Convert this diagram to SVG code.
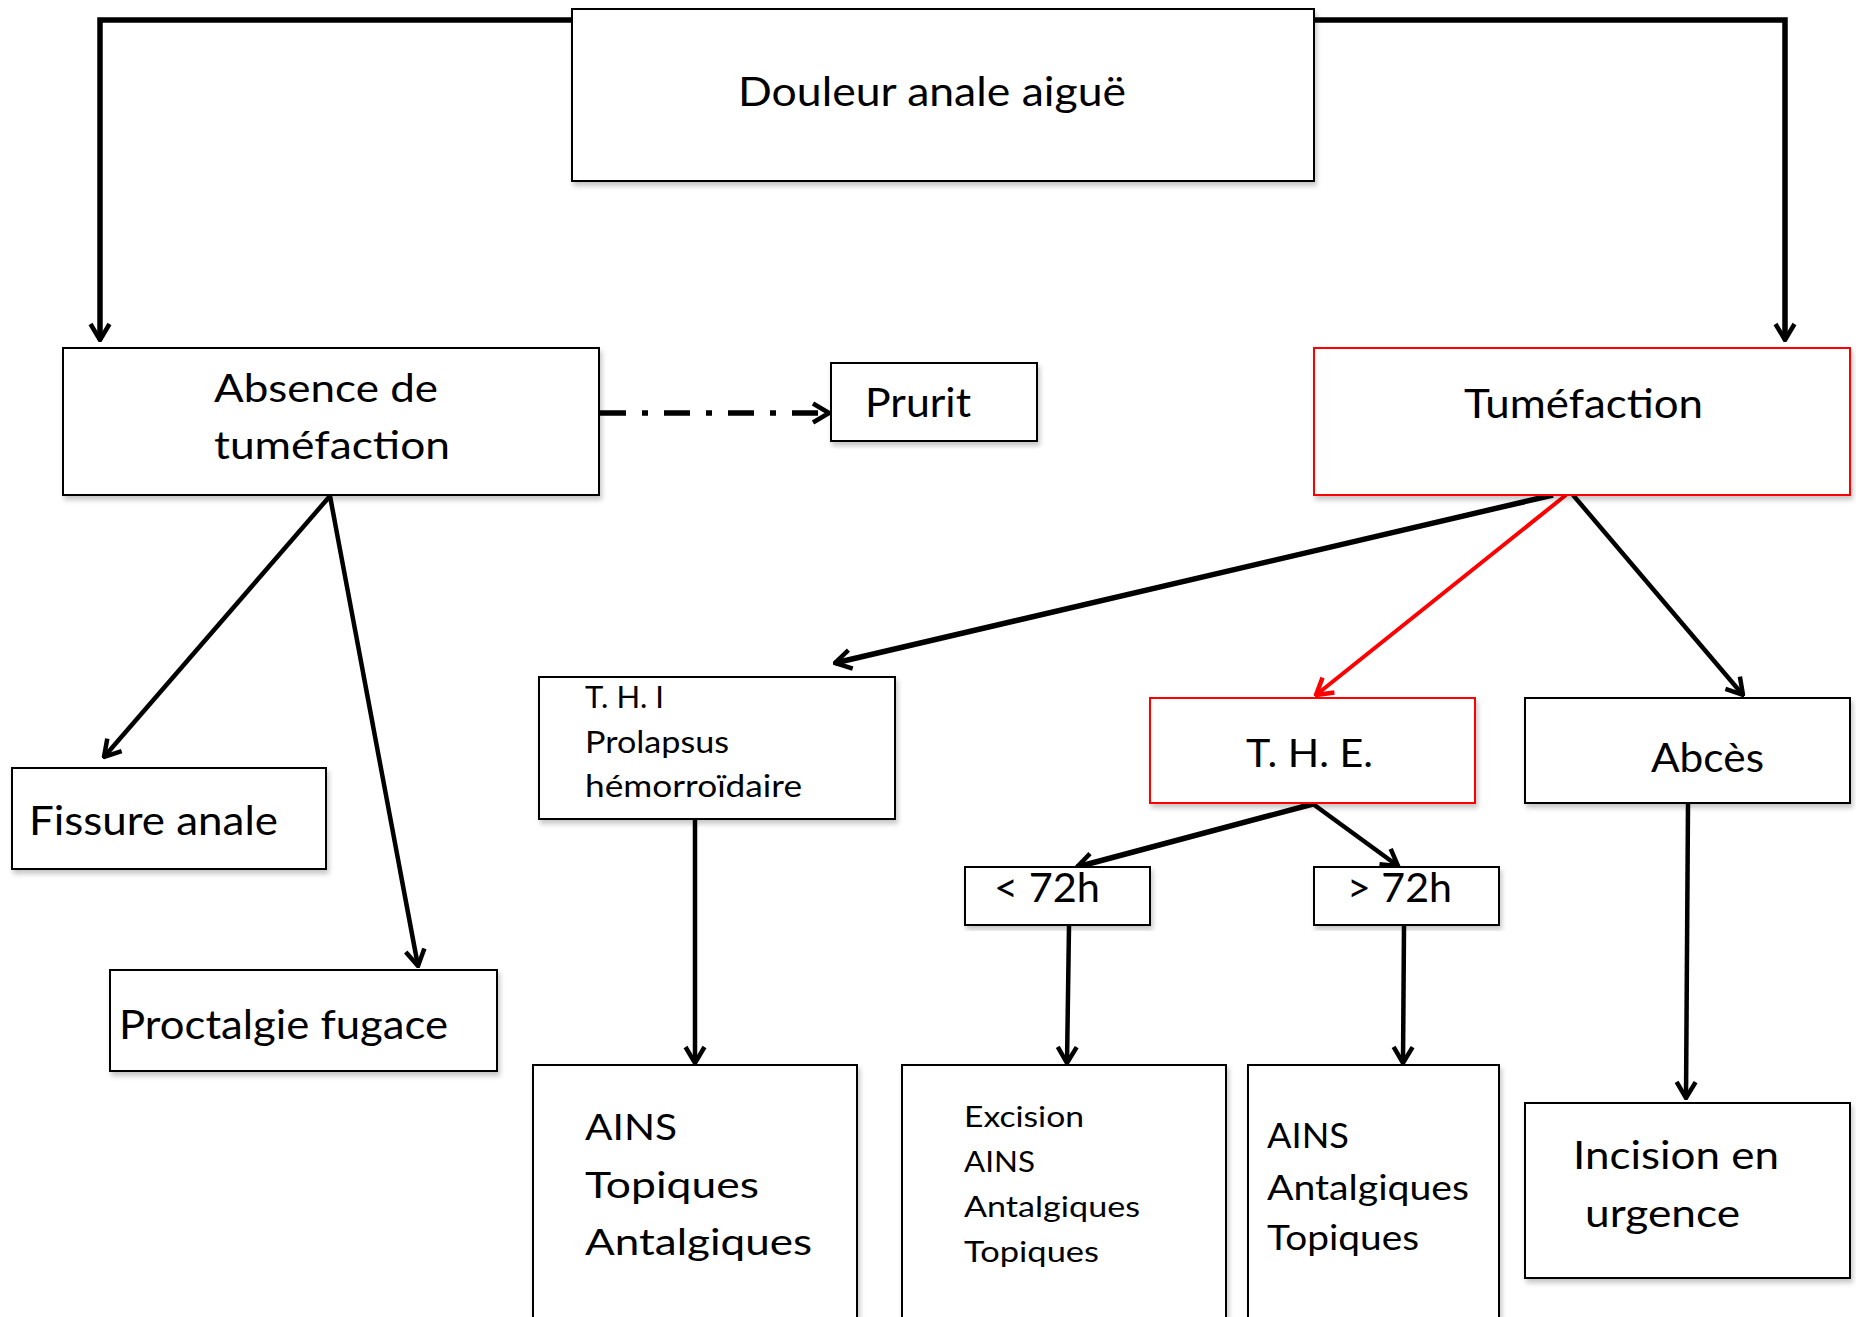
<svg xmlns="http://www.w3.org/2000/svg" width="1856" height="1317" viewBox="0 0 1856 1317">
<defs>
  <filter id="sh" x="-5%" y="-5%" width="110%" height="115%">
    <feDropShadow dx="2" dy="4" stdDeviation="2.5" flood-color="#000" flood-opacity="0.22"/>
  </filter>
  <marker id="ah" viewBox="-20 -12 22 24" markerWidth="22" markerHeight="24" refX="0" refY="0" orient="auto" markerUnits="userSpaceOnUse">
    <path d="M-16,-9.5 L0,0 L-16,9.5" fill="none" stroke="#000" stroke-width="4.5" stroke-linejoin="miter"/>
  </marker>
  <marker id="ahr" viewBox="-20 -12 22 24" markerWidth="22" markerHeight="24" refX="0" refY="0" orient="auto" markerUnits="userSpaceOnUse">
    <path d="M-16,-9.5 L0,0 L-16,9.5" fill="none" stroke="#f00" stroke-width="4.5" stroke-linejoin="miter"/>
  </marker>
  <style>
    .box{fill:#fff;stroke:#000;stroke-width:2;filter:url(#sh)}
    .red{stroke:#f00}
    text{font-family:Lato,"Liberation Sans",sans-serif;fill:#000}
    .c{fill:none;stroke:#000;stroke-width:4.5;marker-end:url(#ah)}
    .thick{stroke-width:5.5}
    .cr{fill:none;stroke:#f00;stroke-width:4;marker-end:url(#ahr)}
  </style>
</defs>
<rect width="1856" height="1317" fill="#fff"/>

<g id="connectors">
  <polyline class="c thick" points="572,20 100,20 100,340"/>
  <polyline class="c thick" points="1314,20 1785,20 1785,340"/>
  <line class="c thick" x1="600" y1="413" x2="829" y2="413" stroke-dasharray="26,16,6,16"/>
  <line class="c" x1="330" y1="496" x2="104" y2="757"/>
  <line class="c" x1="330" y1="496" x2="418" y2="966"/>
  <line class="c thick" x1="1553" y1="495" x2="835" y2="663"/>
  <line class="cr" x1="1566" y1="495" x2="1316" y2="695"/>
  <line class="c" x1="1573" y1="495" x2="1743" y2="695"/>
  <line class="c thick" x1="1313" y1="804" x2="1077" y2="867"/>
  <line class="c" x1="1313" y1="804" x2="1398" y2="866"/>
  <line class="c" x1="695" y1="819" x2="695" y2="1063"/>
  <line class="c" x1="1069" y1="926" x2="1067" y2="1063"/>
  <line class="c" x1="1404" y1="926" x2="1403" y2="1063"/>
  <line class="c" x1="1688" y1="804" x2="1686" y2="1098"/>
</g>

<g id="douleur">
  <rect class="box" x="572" y="9" width="742" height="172"/>
  <text x="738" y="106" font-size="40" textLength="388" lengthAdjust="spacingAndGlyphs">Douleur anale aiguë</text>
</g>
<g id="absence">
  <rect class="box" x="63" y="348" width="536" height="147"/>
  <text x="214" y="402" font-size="39" textLength="224" lengthAdjust="spacingAndGlyphs">Absence de</text>
  <text x="214" y="459" font-size="39" textLength="236" lengthAdjust="spacingAndGlyphs">tuméfaction</text>
</g>
<g id="prurit">
  <rect class="box" x="831" y="363" width="206" height="78"/>
  <text x="865" y="417" font-size="40" textLength="106" lengthAdjust="spacingAndGlyphs">Prurit</text>
</g>
<g id="tumefaction">
  <rect class="box red" x="1314" y="348" width="536" height="147"/>
  <text x="1464" y="418" font-size="40" textLength="239" lengthAdjust="spacingAndGlyphs">Tuméfaction</text>
</g>
<g id="fissure">
  <rect class="box" x="12" y="768" width="314" height="101"/>
  <text x="29" y="835" font-size="40" textLength="249" lengthAdjust="spacingAndGlyphs">Fissure anale</text>
</g>
<g id="proctalgie">
  <rect class="box" x="110" y="970" width="387" height="101"/>
  <text x="119" y="1039" font-size="40" textLength="329" lengthAdjust="spacingAndGlyphs">Proctalgie fugace</text>
</g>
<g id="thi">
  <rect class="box" x="539" y="677" width="356" height="142"/>
  <text x="585" y="708" font-size="31" textLength="79" lengthAdjust="spacingAndGlyphs">T. H. I</text>
  <text x="585" y="753" font-size="31" textLength="144" lengthAdjust="spacingAndGlyphs">Prolapsus</text>
  <text x="585" y="797" font-size="31" textLength="217" lengthAdjust="spacingAndGlyphs">hémorroïdaire</text>
</g>
<g id="the">
  <rect class="box red" x="1150" y="698" width="325" height="105"/>
  <text x="1246" y="767" font-size="39" textLength="127" lengthAdjust="spacingAndGlyphs">T. H. E.</text>
</g>
<g id="abces">
  <rect class="box" x="1525" y="698" width="325" height="105"/>
  <text x="1651" y="772" font-size="41" textLength="113" lengthAdjust="spacingAndGlyphs">Abcès</text>
</g>
<g id="lt72">
  <rect class="box" x="965" y="867" width="185" height="58"/>
  <text x="994" y="902" font-size="40" textLength="106" lengthAdjust="spacingAndGlyphs">&lt; 72h</text>
</g>
<g id="gt72">
  <rect class="box" x="1314" y="867" width="185" height="58"/>
  <text x="1347" y="902" font-size="40" textLength="105" lengthAdjust="spacingAndGlyphs">&gt; 72h</text>
</g>
<g id="traitement-thi">
  <rect class="box" x="533" y="1065" width="324" height="270"/>
  <text x="585" y="1140" font-size="37" textLength="92" lengthAdjust="spacingAndGlyphs">AINS</text>
  <text x="585" y="1198" font-size="37" textLength="174" lengthAdjust="spacingAndGlyphs">Topiques</text>
  <text x="585" y="1255" font-size="37" textLength="227" lengthAdjust="spacingAndGlyphs">Antalgiques</text>
</g>
<g id="traitement-lt72">
  <rect class="box" x="902" y="1065" width="324" height="270"/>
  <text x="964" y="1127" font-size="28" textLength="120" lengthAdjust="spacingAndGlyphs">Excision</text>
  <text x="964" y="1172" font-size="28" textLength="71" lengthAdjust="spacingAndGlyphs">AINS</text>
  <text x="964" y="1217" font-size="28" textLength="176" lengthAdjust="spacingAndGlyphs">Antalgiques</text>
  <text x="964" y="1262" font-size="28" textLength="135" lengthAdjust="spacingAndGlyphs">Topiques</text>
</g>
<g id="traitement-gt72">
  <rect class="box" x="1248" y="1065" width="251" height="270"/>
  <text x="1267" y="1148" font-size="34" textLength="82" lengthAdjust="spacingAndGlyphs">AINS</text>
  <text x="1267" y="1200" font-size="34" textLength="202" lengthAdjust="spacingAndGlyphs">Antalgiques</text>
  <text x="1267" y="1250" font-size="34" textLength="152" lengthAdjust="spacingAndGlyphs">Topiques</text>
</g>
<g id="incision">
  <rect class="box" x="1525" y="1103" width="325" height="175"/>
  <text x="1573" y="1169" font-size="39" textLength="206" lengthAdjust="spacingAndGlyphs">Incision en</text>
  <text x="1585" y="1227" font-size="39" textLength="155" lengthAdjust="spacingAndGlyphs">urgence</text>
</g>
</svg>
